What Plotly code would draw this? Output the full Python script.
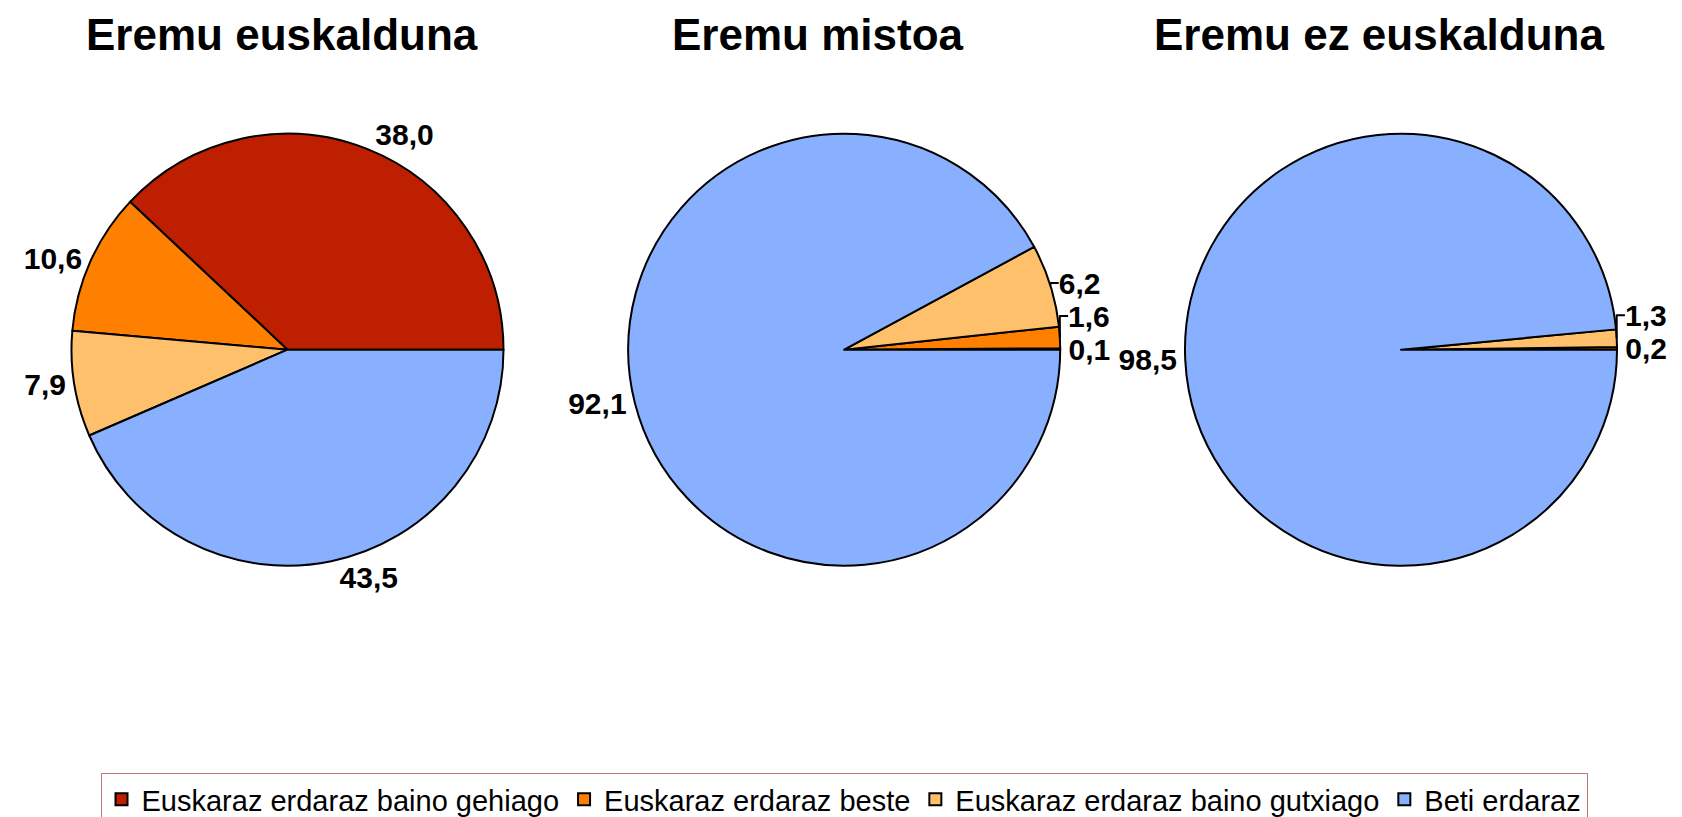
import plotly.graph_objects as go

categories = [
    "Euskaraz erdaraz baino gehiago",
    "Euskaraz erdaraz beste",
    "Euskaraz erdaraz baino gutxiago",
    "Beti erdaraz",
]
colors = ["#BD1F00", "#FF8000", "#FFC06C", "#88B0FF"]

titles = ["Eremu euskalduna", "Eremu mistoa", "Eremu ez euskalduna"]
values_euskalduna = [38.0, 10.6, 7.9, 43.5]
values_mistoa = [0.1, 1.6, 6.2, 92.1]
values_ez_euskalduna = [0.0, 0.2, 1.3, 98.5]
all_values = [values_euskalduna, values_mistoa, values_ez_euskalduna]

W, H = 1682, 817
OFF = 8  # default page body margin


def px_x(sx):
    return (sx - OFF) / W


def px_y(sy):
    return 1 - (sy - OFF) / H


centers_px = [287.5, 844.2, 1401.0]
cy_px = 349.7
r_px = 216.0
title_x_px = [282, 818, 1379]
title_y_px = 35

fig = go.Figure()
for i, vals in enumerate(all_values):
    cx = centers_px[i]
    total = sum(vals)
    # first slice should start at 3 o'clock and run counterclockwise
    rot = 90 - 360.0 * vals[0] / total
    tmpl = ["%{value:.1f}" if v > 0 else "" for v in vals]
    fig.add_trace(go.Pie(
        labels=categories,
        values=vals,
        sort=False,
        direction="counterclockwise",
        rotation=rot,
        marker=dict(colors=colors, line=dict(color="black", width=2)),
        texttemplate=tmpl,
        textposition="outside",
        textfont=dict(family="Liberation Sans", size=30, color="black", weight="bold"),
        domain=dict(x=[px_x(cx - r_px), px_x(cx + r_px)],
                    y=[px_y(cy_px + r_px), px_y(cy_px - r_px)]),
        showlegend=(i == 0),
        hoverinfo="label+value",
    ))
    fig.add_annotation(
        text=titles[i],
        x=px_x(title_x_px[i]), y=px_y(title_y_px), xref="paper", yref="paper",
        xanchor="center", yanchor="middle", showarrow=False,
        font=dict(family="Liberation Sans", size=44, color="black", weight="bold"),
    )

fig.update_layout(
    width=W, height=H,
    margin=dict(l=0, r=0, t=0, b=0, autoexpand=False),
    paper_bgcolor="white",
    plot_bgcolor="white",
    separators=",.",
    font=dict(family="Liberation Sans", color="black"),
    legend=dict(
        orientation="h",
        x=px_x(844), xanchor="center",
        y=px_y(773), yanchor="top",
        bordercolor="#C07A7A", borderwidth=1,
        font=dict(family="Liberation Sans", size=29, color="black"),
        bgcolor="white",
    ),
)

fig.write_html("out.html")
